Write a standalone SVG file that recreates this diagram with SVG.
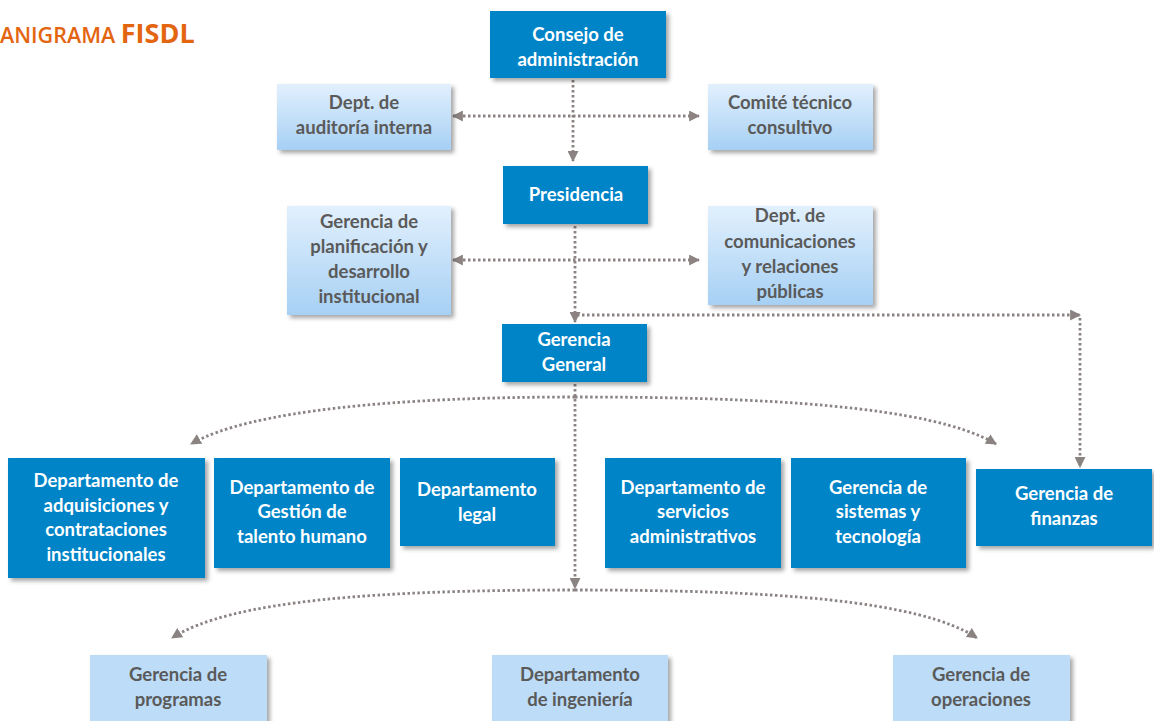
<svg xmlns="http://www.w3.org/2000/svg" width="1154" height="721" viewBox="0 0 1154 721">
<style>
.dark rect{fill:#0084c8;filter:url(#sh)}
.light rect{fill:url(#lg);filter:url(#sh)}
.dark text{fill:#ffffff}
.light text{fill:#5a5a5a}
text{font-family:Lato,"Liberation Sans",sans-serif;font-weight:bold;font-size:18.5px;text-anchor:middle}
.conn path{fill:none;stroke:#8a8382;stroke-width:2.8;stroke-dasharray:2.5 2.5}
.title{font-family:"Open Sans","Liberation Sans",sans-serif;fill:#e4650f;text-anchor:start}
</style>
<defs>
<linearGradient id="lg" x1="0" y1="0" x2="0" y2="1">
<stop offset="0" stop-color="#e2f0fd"/>
<stop offset="1" stop-color="#a6d0f4"/>
</linearGradient>
<filter id="sh" x="-10%" y="-10%" width="125%" height="130%">
<feDropShadow dx="3" dy="3" stdDeviation="2" flood-color="#000" flood-opacity="0.35"/>
</filter>
<marker id="ar" viewBox="0 0 10 10" refX="9" refY="5" markerWidth="11" markerHeight="11" markerUnits="userSpaceOnUse" orient="auto-start-reverse">
<path d="M0,0 L10,5 L0,10 z" fill="#8a8382"/>
</marker>
</defs>
<rect width="1154" height="721" fill="#ffffff"/>
<text class="title" x="0" y="43" style="font-size:21.5px;font-weight:600">ANIGRAMA <tspan style="font-size:27px;font-weight:bold">FISDL</tspan></text>

<g class="conn">
<path d="M573,80 V161" marker-end="url(#ar)"/>
<path d="M453,116 H699" marker-start="url(#ar)" marker-end="url(#ar)"/>
<path d="M575,226 V322" marker-end="url(#ar)"/>
<path d="M453,260 H699" marker-start="url(#ar)" marker-end="url(#ar)"/>
<path d="M577,315 H1080" marker-end="url(#ar)"/>
<path d="M1080,318 V467" marker-end="url(#ar)"/>
<path d="M575,384 V588" marker-end="url(#ar)"/>
<path d="M575,397 C400,397 250,410 191,444" marker-end="url(#ar)"/>
<path d="M575,397 C760,397 930,405 996,444" marker-end="url(#ar)"/>
<path d="M575,590 C380,590 230,600 172,638" marker-end="url(#ar)"/>
<path d="M575,590 C770,590 920,600 977,638" marker-end="url(#ar)"/>
</g>

<g id="consejo" class="dark"><rect x="490" y="11" width="176" height="67"/><text x="578" y="41">Consejo de</text><text x="578" y="66">administración</text></g>
<g id="auditoria" class="light"><rect x="277" y="84" width="174" height="66"/><text x="364" y="109">Dept. de</text><text x="364" y="134">auditoría interna</text></g>
<g id="comite" class="light"><rect x="708" y="84" width="165" height="66"/><text x="790" y="109">Comité técnico</text><text x="790" y="134">consultivo</text></g>
<g id="presidencia" class="dark"><rect x="503" y="166" width="145" height="58"/><text x="576" y="201">Presidencia</text></g>
<g id="planificacion" class="light"><rect x="287" y="206" width="164" height="109"/><text x="369" y="228">Gerencia de</text><text x="369" y="253">planificación y</text><text x="369" y="278">desarrollo</text><text x="369" y="303">institucional</text></g>
<g id="comunicaciones" class="light"><rect x="708" y="206" width="165" height="99"/><text x="790" y="222">Dept. de</text><text x="790" y="248">comunicaciones</text><text x="790" y="273">y relaciones</text><text x="790" y="298">públicas</text></g>
<g id="gerencia-general" class="dark"><rect x="502" y="324" width="145" height="58"/><text x="574" y="346">Gerencia</text><text x="574" y="371">General</text></g>

<g id="adquisiciones" class="dark"><rect x="8" y="458" width="197" height="120"/><text x="106" y="487">Departamento de</text><text x="106" y="512">adquisiciones y</text><text x="106" y="536">contrataciones</text><text x="106" y="561">institucionales</text></g>
<g id="talento" class="dark"><rect x="214" y="458" width="176" height="110"/><text x="302" y="494">Departamento de</text><text x="302" y="518">Gestión de</text><text x="302" y="543">talento humano</text></g>
<g id="legal" class="dark"><rect x="400" y="458" width="155" height="88"/><text x="477" y="496">Departamento</text><text x="477" y="521">legal</text></g>
<g id="servicios" class="dark"><rect x="605" y="458" width="176" height="110"/><text x="693" y="494">Departamento de</text><text x="693" y="518">servicios</text><text x="693" y="543">administrativos</text></g>
<g id="sistemas" class="dark"><rect x="791" y="458" width="175" height="110"/><text x="878" y="494">Gerencia de</text><text x="878" y="518">sistemas y</text><text x="878" y="543">tecnología</text></g>
<g id="finanzas" class="dark"><rect x="976" y="469" width="176" height="77"/><text x="1064" y="500">Gerencia de</text><text x="1064" y="525">finanzas</text></g>

<g id="programas" class="light"><rect x="90" y="655" width="177" height="110" style="fill:#bcdcf8"/><text x="178" y="681">Gerencia de</text><text x="178" y="706">programas</text></g>
<g id="ingenieria" class="light"><rect x="492" y="655" width="176" height="110" style="fill:#bcdcf8"/><text x="580" y="681">Departamento</text><text x="580" y="706">de ingeniería</text></g>
<g id="operaciones" class="light"><rect x="893" y="655" width="177" height="110" style="fill:#bcdcf8"/><text x="981" y="681">Gerencia de</text><text x="981" y="706">operaciones</text></g>
</svg>
